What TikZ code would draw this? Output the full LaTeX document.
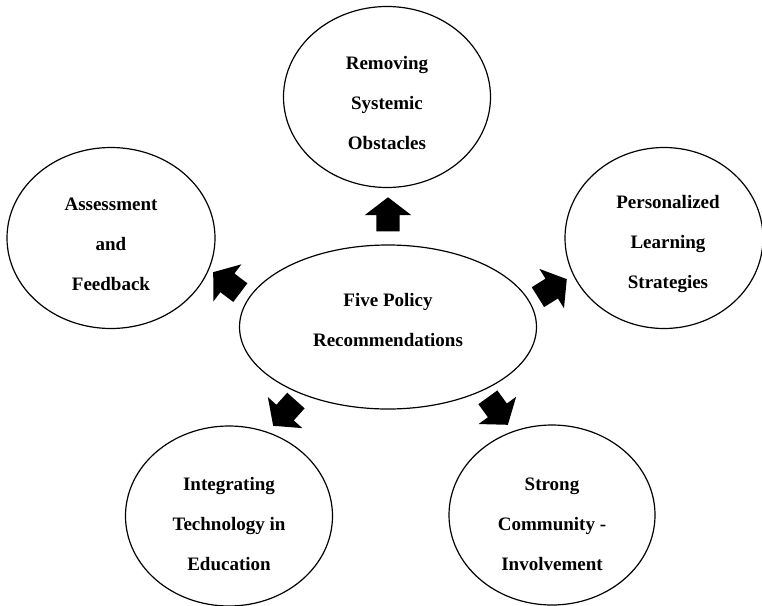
\documentclass[tikz,border=0pt]{standalone}
\usepackage{fontspec}
\setmainfont{Liberation Serif}
\usetikzlibrary{shapes.geometric,shapes.arrows}
\begin{document}
\begin{tikzpicture}[x=1pt,y=-1pt,
    bubble/.style={draw,ellipse,line width=1.2pt},
    bubtext/.style={align=center,font=\fontsize{19}{40}\selectfont\bfseries},
    blockarrow/.style={single arrow,fill=black,draw=none,inner sep=11.5pt,
        minimum height=34pt,single arrow head extend=11.5pt,
        single arrow tip angle=105,rotate=#1,anchor=tip}]
    \clip (0,0) rectangle (762,605);

    \node[bubble,minimum width=297pt,minimum height=164pt] (policy) at (388,327) {};
    \node[bubtext] (policytext) at (388,320) {Five Policy\\Recommendations};

    \node[bubble,minimum width=207pt,minimum height=181pt] (obstacles) at (387,97) {};
    \node[bubtext] (obstaclestext) at (387,103) {Removing\\Systemic\\Obstacles};

    \node[bubble,minimum width=208pt,minimum height=181pt] (assess) at (111,238) {};
    \node[bubtext] (assesstext) at (111,244) {Assessment\\and\\Feedback};

    \node[bubble,minimum width=198pt,minimum height=181pt] (learning) at (664,238) {};
    \node[bubtext] (learningtext) at (668,244) {Personalized\\Learning\\Strategies};

    \node[bubble,minimum width=207pt,minimum height=180pt] (tech) at (229,516) {};
    \node[bubtext] (techtext) at (229,524) {Integrating\\Technology in\\Education};

    \node[bubble,minimum width=206pt,minimum height=180pt] (community) at (552,515) {};
    \node[bubtext] (communitytext) at (552,524) {Strong\\Community -\\Involvement};

    \node[blockarrow=90] (toobstacles) at (388,197) {};
    \node[blockarrow=143] (toassess) at (213,272) {};
    \node[blockarrow=32] (tolearning) at (567,279) {};
    \node[blockarrow=228] (totech) at (273,426) {};
    \node[blockarrow=306] (tocommunity) at (508,425) {};
\end{tikzpicture}
\end{document}
